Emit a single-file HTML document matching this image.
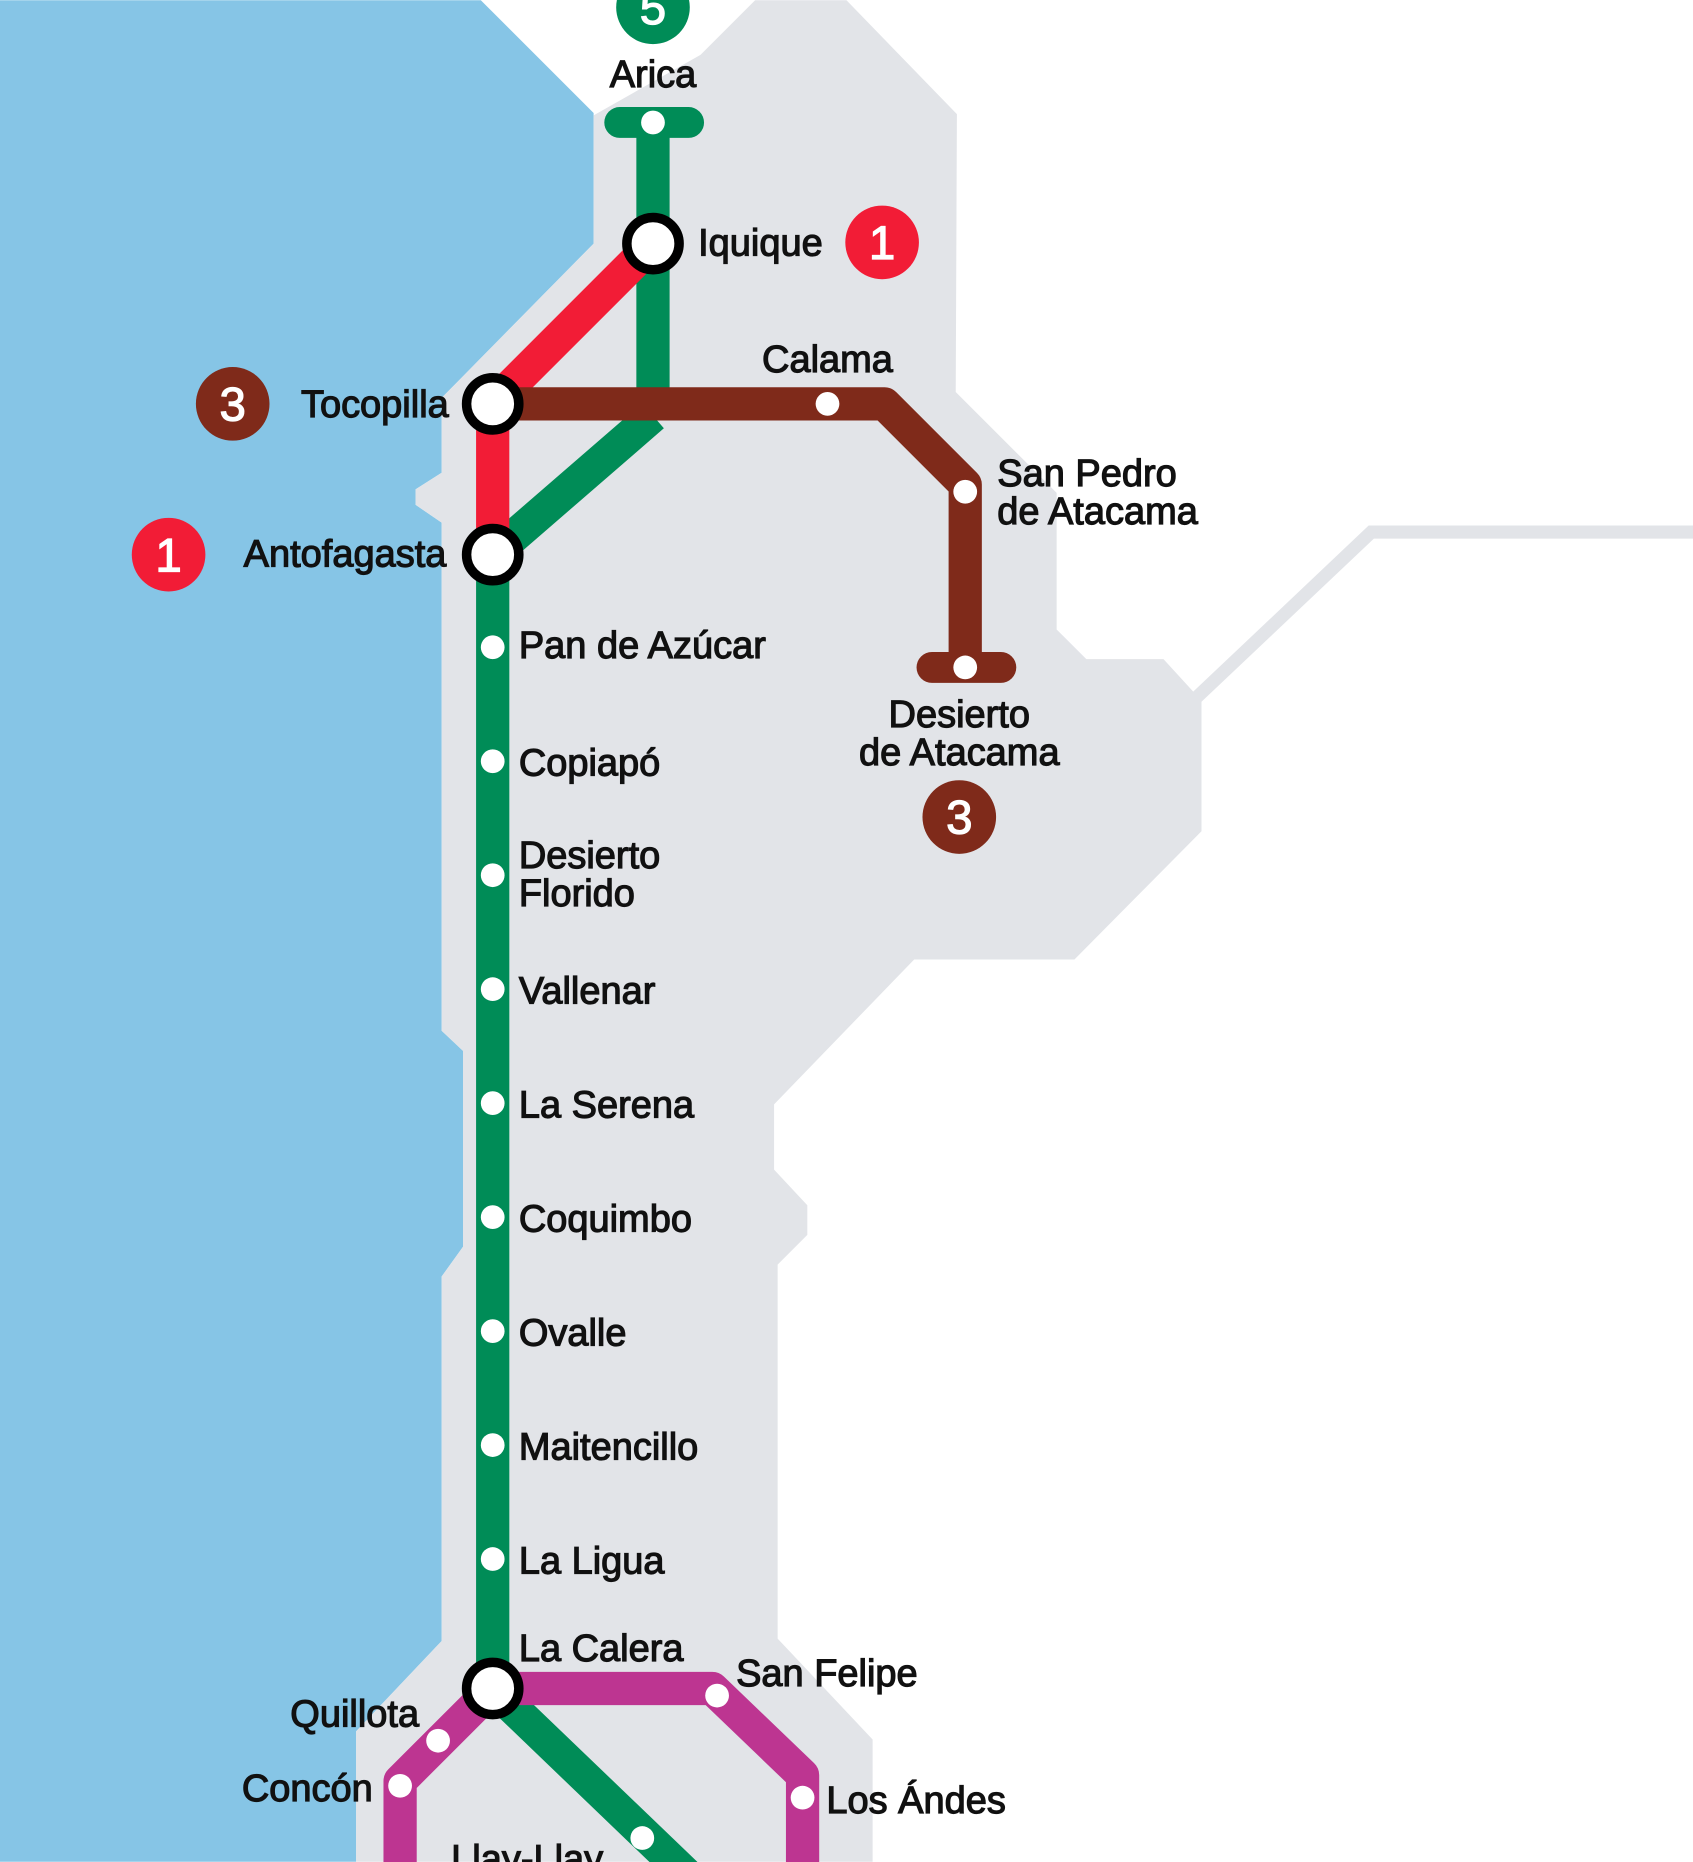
<!DOCTYPE html>
<html><head><meta charset="utf-8"><style>
html,body{margin:0;padding:0;background:#fff;}
svg{display:block;}
text{font-family:"Liberation Sans",sans-serif;font-size:32px;fill:#111;stroke:#111;stroke-width:1;}
.b{font-size:40px;fill:#fff;stroke:#fff;text-anchor:middle;}
</style></head><body>
<svg width="1693" height="1862" viewBox="0 0 1426 1568" xmlns="http://www.w3.org/2000/svg">
<rect width="1426" height="1568" fill="#fff"/>
<!-- sea -->
<polygon fill="#86c5e6" points="0,0 405,0 500,95 500,205 372,335 372,398 350,412 350,425 372,440 372,868 390,885 390,1050 372,1075 372,1382 300,1458 300,1568 0,1568"/>
<!-- land -->
<polygon fill="#e2e4e8" points="500,97 590,46 636,0 713,0 806,96 805,330 890,415 890,530 915,555 980,555 1012,590 1012,700 905,808 770,808 652,930 652,985 680,1015 680,1040 655,1065 655,1380 735,1465 735,1568 300,1568 300,1458 372,1382 372,1075 390,1050 390,885 372,868 372,440 350,425 350,412 372,398 372,335 500,205"/>
<polyline fill="none" stroke="#e2e4e8" stroke-width="11" points="1005,590 1155,448 1426,448"/>
<!-- lines -->
<g fill="none" stroke-width="28" stroke-linejoin="round">
<polyline stroke="#008c57" points="550,103 550,328"/>
<polyline stroke="#008c57" points="550,350 415,467 415,1422 590,1590"/>
<polyline stroke="#bd3591" points="415,1422 600,1422 676,1495 676,1600"/>
<polyline stroke="#bd3591" points="415,1422 337,1500 337,1600"/>
<polyline stroke="#f21c36" points="550,205 415,340 415,467"/>
<polyline stroke="#7f2a1a" points="415,340 745,340 813,408 813,562"/>
</g>
<g stroke-width="26" stroke-linecap="round">
<line x1="522" y1="103" x2="580" y2="103" stroke="#008c57"/>
<line x1="785" y1="562" x2="843" y2="562" stroke="#7f2a1a"/>
</g>
<!-- interchanges -->
<g fill="#fff" stroke="#000" stroke-width="8">
<circle cx="550" cy="205" r="22"/><circle cx="415" cy="340" r="22"/>
<circle cx="415" cy="467" r="22"/><circle cx="415" cy="1422" r="22"/>
</g>
<!-- stations -->
<g fill="#fff">
<circle cx="550" cy="103" r="10"/><circle cx="697" cy="340" r="10"/><circle cx="813" cy="414" r="10"/><circle cx="813" cy="562" r="10"/>
<circle cx="415" cy="545" r="10"/><circle cx="415" cy="641" r="10"/><circle cx="415" cy="737" r="10"/><circle cx="415" cy="833" r="10"/><circle cx="415" cy="929" r="10"/><circle cx="415" cy="1025" r="10"/><circle cx="415" cy="1121" r="10"/><circle cx="415" cy="1217" r="10"/><circle cx="415" cy="1313" r="10"/>
<circle cx="369" cy="1466" r="10"/><circle cx="337" cy="1504" r="10"/><circle cx="604" cy="1428" r="10"/><circle cx="676" cy="1514" r="10"/><circle cx="541" cy="1548" r="10"/>
</g>
<!-- badges -->
<circle cx="550" cy="6" r="31" fill="#008c57"/><text class="b" x="550" y="20">5</text>
<circle cx="743" cy="204" r="31" fill="#f21c36"/><text class="b" x="743" y="218">1</text>
<circle cx="196" cy="340" r="31" fill="#7f2a1a"/><text class="b" x="196" y="354">3</text>
<circle cx="142" cy="467" r="31" fill="#f21c36"/><text class="b" x="142" y="481">1</text>
<circle cx="808" cy="688" r="31" fill="#7f2a1a"/><text class="b" x="808" y="702">3</text>
<!-- labels -->
<text x="550" y="73" text-anchor="middle">Arica</text>
<text x="588" y="215">Iquique</text>
<text x="697" y="313" text-anchor="middle">Calama</text>
<text x="840" y="409">San Pedro</text>
<text x="840" y="441">de Atacama</text>
<text x="378" y="351" text-anchor="end">Tocopilla</text>
<text x="376" y="477" text-anchor="end">Antofagasta</text>
<text x="437" y="554">Pan de Azúcar</text>
<text x="437" y="653">Copiapó</text>
<text x="437" y="731">Desierto</text>
<text x="437" y="763">Florido</text>
<text x="437" y="845">Vallenar</text>
<text x="437" y="941">La Serena</text>
<text x="437" y="1037">Coquimbo</text>
<text x="437" y="1133">Ovalle</text>
<text x="437" y="1229">Maitencillo</text>
<text x="437" y="1325">La Ligua</text>
<text x="808" y="612" text-anchor="middle">Desierto</text>
<text x="808" y="644" text-anchor="middle">de Atacama</text>
<text x="437" y="1399">La Calera</text>
<text x="620" y="1420">San Felipe</text>
<text x="353" y="1454" text-anchor="end">Quillota</text>
<text x="314" y="1517" text-anchor="end">Concón</text>
<text x="696" y="1527">Los Ándes</text>
<text x="380" y="1576">Llay-Llay</text>
</svg>
</body></html>
